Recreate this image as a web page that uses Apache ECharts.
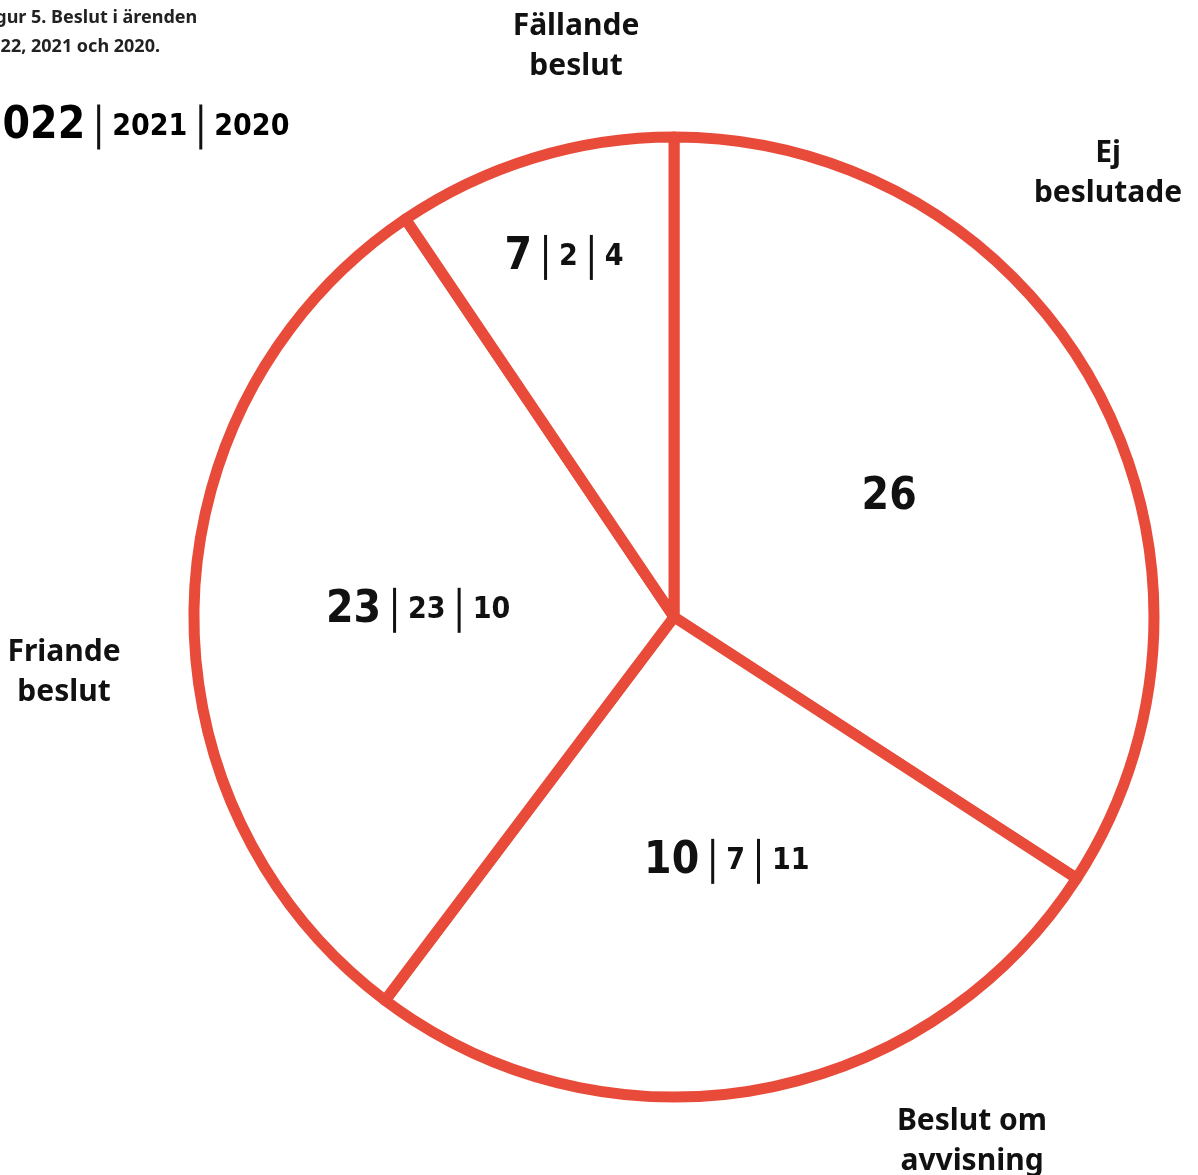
<!DOCTYPE html>
<html>
<head>
<meta charset="utf-8">
<script src="https://cdn.jsdelivr.net/npm/echarts@6/dist/echarts.min.js"></script>
<style>
html, body { margin: 0; padding: 0; background: #fff; }
#chart { width: 1198px; height: 1175px; }
</style>
</head>
<body>
<div id="chart"></div>
<script>
var categories = ["Ej beslutade", "Beslut om avvisning", "Friande beslut", "Fällande beslut"];
var years = ["2022", "2021", "2020"];
var values2022 = [26, 10, 23, 7];
var values2021 = [null, 7, 23, 2];
var values2020 = [null, 11, 10, 4];
// slice sizes as drawn in the figure (degrees) - the figure is not to scale
var sliceSizes = [123, 94, 109, 34];
var titleText = "Figur 5. Beslut i ärenden\n2022, 2021 och 2020.";

var myChart = echarts.init(document.getElementById("chart"));

var red = "#E84B3A";
var ink = "#111";
var numFont = '"DejaVu Sans Condensed", "Liberation Sans Narrow", sans-serif';
var textFont = '"Noto Sans", Lato, sans-serif';
var cx = 674, cy = 617, R = 480;

var rich = {
	big: { fontFamily: numFont, fontWeight: "bold", fontSize: 44, color: ink, verticalAlign: "middle", lineHeight: 50 },
	small: { fontFamily: numFont, fontWeight: "bold", fontSize: 30, color: ink, verticalAlign: "middle", lineHeight: 50 },
	gap: { width: 12, fontSize: 10 },
	sep: { width: 3, height: 45, backgroundColor: ink, fontSize: 10 }
};

function numLabel(vals) {
	var s = "{big|" + vals[0] + "}";
	for (var k = 1; k < vals.length; k++) {
		if (vals[k] == null) continue;
		s += "{gap| }{sep| }{gap| }{small|" + vals[k] + "}";
	}
	return s;
}

// mid angle of each slice, clockwise from 12 o'clock
var midAngles = [];
var acc = 0;
for (var i = 0; i < sliceSizes.length; i++) {
	midAngles.push(acc + sliceSizes[i] / 2);
	acc += sliceSizes[i];
}
var labelRadius = [246, 250, 256, 376];
var labelTurn = [-0.5, -2.2, 0, 0];

var pieData = categories.map(function (c, i) {
	return { name: c, value: sliceSizes[i] };
});

// outer category names
var namePos = [[1108, 173], [972, 1141], [64, 672], [576, 46]];
var graphics = categories.map(function (c, i) {
	var k = c.lastIndexOf(" ");
	return {
		type: "text",
		x: namePos[i][0],
		y: namePos[i][1],
		style: {
			text: c.slice(0, k) + "\n" + c.slice(k + 1),
			fill: ink,
			font: "bold 30px " + textFont,
			lineHeight: 40,
			textAlign: "center",
			textVerticalAlign: "middle"
		}
	};
});

// figure title (cut at the left edge as in the source)
graphics.push({
	type: "text",
	x: -20,
	y: 3,
	style: {
		text: titleText,
		fill: "#222",
		font: "bold 18px " + textFont,
		lineHeight: 29,
		textAlign: "left",
		textVerticalAlign: "top"
	}
});

// year key
graphics.push({
	type: "text",
	x: -25,
	y: 127,
	style: {
		text: numLabel(years),
		rich: rich,
		textAlign: "left",
		textVerticalAlign: "middle"
	}
});

var option = {
	animation: false,
	backgroundColor: "#fff",
	graphic: graphics,
	series: [
		{
			type: "pie",
			center: [cx, cy],
			radius: R,
			startAngle: 90,
			clockwise: true,
			silent: true,
			itemStyle: {
				color: "#fff",
				borderColor: red,
				borderWidth: 11
			},
			label: {
				show: true,
				position: "inside",
				formatter: function (p) {
					var i = p.dataIndex;
					return numLabel([values2022[i], values2021[i], values2020[i]]);
				},
				rich: rich
			},
			labelLine: { show: false },
			labelLayout: function (p) {
				var i = p.dataIndex;
				var a = (midAngles[i] + labelTurn[i]) * Math.PI / 180;
				return {
					x: cx + labelRadius[i] * Math.sin(a),
					y: cy - labelRadius[i] * Math.cos(a),
					align: "center",
					verticalAlign: "middle"
				};
			},
			data: pieData
		}
	]
};
myChart.setOption(option);
</script>
</body>
</html>
